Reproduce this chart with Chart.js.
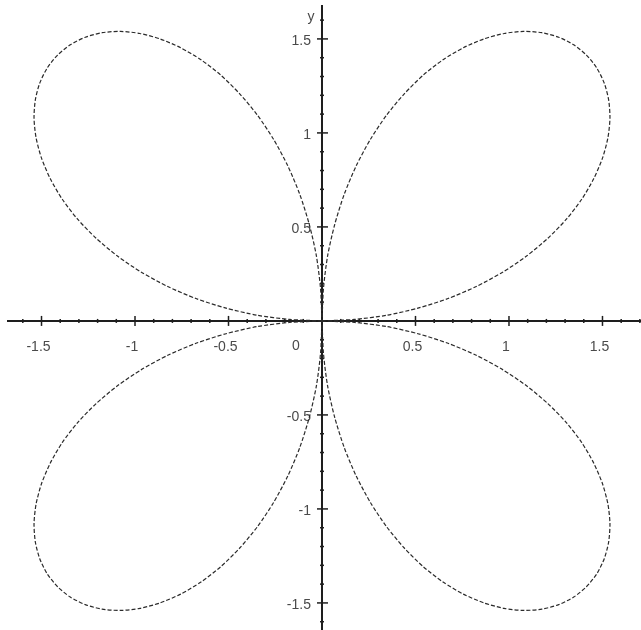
<!DOCTYPE html>
<html>
<head>
<meta charset="utf-8">
<script src="https://cdn.jsdelivr.net/npm/chart.js@4.4.1/dist/chart.umd.min.js"></script>
<style>
  html, body { margin: 0; padding: 0; background: #fff; }
  #wrap { width: 641px; height: 630px; }
</style>
</head>
<body>
<div id="wrap"><canvas id="myChart" width="641" height="630"></canvas></div>
<script>
// four petals as [x, y]
const petalNE = [[0,0],[0.174,0.008],[0.346,0.030],[0.513,0.068],[0.674,0.119],[0.825,0.183],[0.966,0.259],[1.094,0.345],[1.208,0.440],[1.307,0.541],[1.389,0.647],[1.453,0.756],[1.500,0.866],[1.529,0.974],[1.540,1.078],[1.533,1.176],[1.509,1.266],[1.469,1.346],[1.414,1.414],[1.346,1.469],[1.266,1.509],[1.176,1.533],[1.078,1.540],[0.974,1.529],[0.866,1.500],[0.756,1.453],[0.647,1.389],[0.541,1.307],[0.440,1.208],[0.345,1.094],[0.259,0.966],[0.183,0.825],[0.119,0.674],[0.068,0.513],[0.030,0.346],[0.008,0.174],[0,0]];
const petalNW = [[0,0],[-0.174,0.008],[-0.346,0.030],[-0.513,0.068],[-0.674,0.119],[-0.825,0.183],[-0.966,0.259],[-1.094,0.345],[-1.208,0.440],[-1.307,0.541],[-1.389,0.647],[-1.453,0.756],[-1.500,0.866],[-1.529,0.974],[-1.540,1.078],[-1.533,1.176],[-1.509,1.266],[-1.469,1.346],[-1.414,1.414],[-1.346,1.469],[-1.266,1.509],[-1.176,1.533],[-1.078,1.540],[-0.974,1.529],[-0.866,1.500],[-0.756,1.453],[-0.647,1.389],[-0.541,1.307],[-0.440,1.208],[-0.345,1.094],[-0.259,0.966],[-0.183,0.825],[-0.119,0.674],[-0.068,0.513],[-0.030,0.346],[-0.008,0.174],[0,0]];
const petalSW = [[0,0],[-0.174,-0.008],[-0.346,-0.030],[-0.513,-0.068],[-0.674,-0.119],[-0.825,-0.183],[-0.966,-0.259],[-1.094,-0.345],[-1.208,-0.440],[-1.307,-0.541],[-1.389,-0.647],[-1.453,-0.756],[-1.500,-0.866],[-1.529,-0.974],[-1.540,-1.078],[-1.533,-1.176],[-1.509,-1.266],[-1.469,-1.346],[-1.414,-1.414],[-1.346,-1.469],[-1.266,-1.509],[-1.176,-1.533],[-1.078,-1.540],[-0.974,-1.529],[-0.866,-1.500],[-0.756,-1.453],[-0.647,-1.389],[-0.541,-1.307],[-0.440,-1.208],[-0.345,-1.094],[-0.259,-0.966],[-0.183,-0.825],[-0.119,-0.674],[-0.068,-0.513],[-0.030,-0.346],[-0.008,-0.174],[0,0]];
const petalSE = [[0,0],[0.174,-0.008],[0.346,-0.030],[0.513,-0.068],[0.674,-0.119],[0.825,-0.183],[0.966,-0.259],[1.094,-0.345],[1.208,-0.440],[1.307,-0.541],[1.389,-0.647],[1.453,-0.756],[1.500,-0.866],[1.529,-0.974],[1.540,-1.078],[1.533,-1.176],[1.509,-1.266],[1.469,-1.346],[1.414,-1.414],[1.346,-1.469],[1.266,-1.509],[1.176,-1.533],[1.078,-1.540],[0.974,-1.529],[0.866,-1.500],[0.756,-1.453],[0.647,-1.389],[0.541,-1.307],[0.440,-1.208],[0.345,-1.094],[0.259,-0.966],[0.183,-0.825],[0.119,-0.674],[0.068,-0.513],[0.030,-0.346],[0.008,-0.174],[0,0]];

// tick labels on both axes
const xTickValues = [-1.5, -1, -0.5, 0.5, 1, 1.5];
const xTickLabels = ['-1.5', '-1', '-0.5', '0.5', '1', '1.5'];
const yTickValues = [1.5, 1, 0.5, -0.5, -1, -1.5];
const yTickLabels = ['1.5', '1', '0.5', '-0.5', '-1', '-1.5'];
const originLabel = '0';
const yAxisTitle = 'y';

const toPts = arr => arr.map(p => ({x: p[0], y: p[1]}));

const curveStyle = {
  showLine: true,
  pointRadius: 0,
  borderWidth: 1.2,
  borderColor: '#2a2a2a',
  borderDash: [4, 2],
  tension: 0.25,
  fill: false
};

// crossed axes drawn with the chart's own scales
const crossAxes = {
  id: 'crossAxes',
  beforeDatasetsDraw(chart) {
    const ctx = chart.ctx;
    const xs = chart.scales.x, ys = chart.scales.y;
    const x0 = xs.getPixelForValue(0), y0 = ys.getPixelForValue(0);
    ctx.save();
    ctx.strokeStyle = '#1e1e1e';
    ctx.lineWidth = 2;
    ctx.beginPath();
    ctx.moveTo(7, y0); ctx.lineTo(chart.width, y0);
    ctx.moveTo(x0, 5); ctx.lineTo(x0, chart.height);
    ctx.stroke();

    // minor ticks every 0.1, major every 0.5
    ctx.lineWidth = 1.5;
    for (let i = -17; i <= 17; i++) {
      if (i === 0) continue;
      const v = i / 10;
      const major = i % 5 === 0;
      const len = major ? 5 : 2;
      const px = xs.getPixelForValue(v);
      if (px > 8 && px < chart.width) {
        ctx.beginPath(); ctx.moveTo(px, y0 - len); ctx.lineTo(px, y0 + len); ctx.stroke();
      }
      const py = ys.getPixelForValue(v);
      if (py > 8 && py < chart.height) {
        ctx.beginPath(); ctx.moveTo(x0 - len, py); ctx.lineTo(x0 + (major ? 6 : 2), py); ctx.stroke();
      }
    }

    ctx.fillStyle = '#4a4a4a';
    ctx.font = '14px "Liberation Sans", Arial, sans-serif';
    ctx.textAlign = 'center';
    ctx.textBaseline = 'middle';
    xTickValues.forEach((v, i) => {
      ctx.fillText(xTickLabels[i], xs.getPixelForValue(v) - 3, y0 + 26);
    });
    ctx.textAlign = 'right';
    yTickValues.forEach((v, i) => {
      ctx.fillText(yTickLabels[i], x0 - 11, ys.getPixelForValue(v) + 2);
    });
    ctx.textAlign = 'center';
    ctx.fillText(originLabel, x0 - 26, y0 + 25);
    ctx.fillText(yAxisTitle, x0 - 11, 17);
    ctx.restore();
  }
};

const config = {
  type: 'scatter',
  data: {
    datasets: [
      Object.assign({ data: toPts(petalNE) }, curveStyle),
      Object.assign({ data: toPts(petalNW) }, curveStyle),
      Object.assign({ data: toPts(petalSW) }, curveStyle),
      Object.assign({ data: toPts(petalSE) }, curveStyle)
    ]
  },
  options: {
    responsive: false,
    animation: false,
    layout: { padding: 0 },
    plugins: { legend: { display: false }, tooltip: { enabled: false } },
    scales: {
      x: { type: 'linear', min: -1.722, max: 1.706, display: false },
      y: { type: 'linear', min: -1.644, max: 1.707, display: false }
    }
  },
  plugins: [crossAxes]
};

const myChart = new Chart(document.getElementById('myChart'), config);
</script>
</body>
</html>
